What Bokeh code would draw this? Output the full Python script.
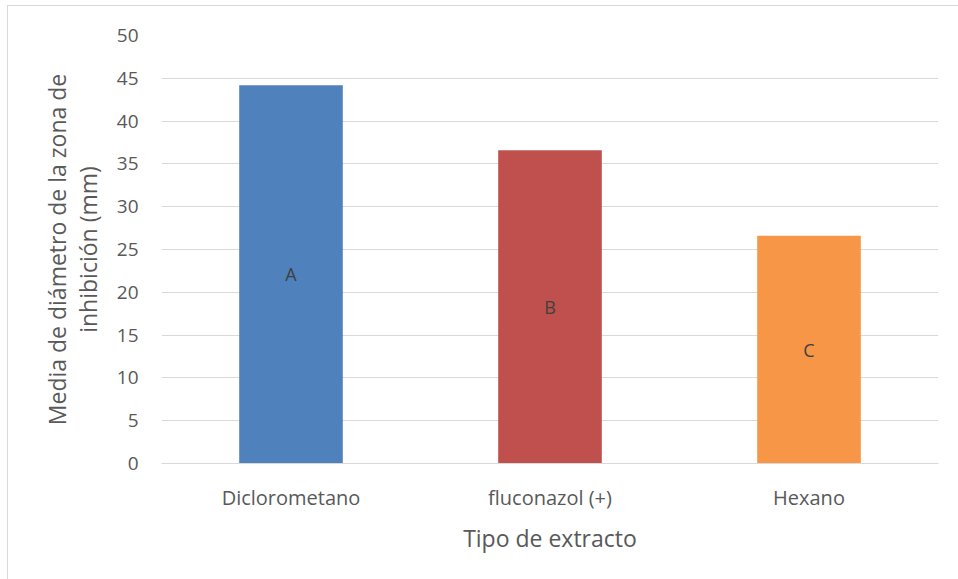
from bokeh.plotting import figure
from bokeh.models import ColumnDataSource, Range1d, LabelSet, FixedTicker
from bokeh.core.properties import value
from bokeh.embed import file_html
from bokeh.resources import INLINE

categories = ["Diclorometano", "fluconazol (+)", "Hexano"]
values = [44.2, 36.6, 26.6]
letters = ["A", "B", "C"]
colors = ["#4F81BD", "#C0504D", "#F79646"]
y_ticks = [0, 5, 10, 15, 20, 25, 30, 35, 40, 45, 50]

FONT = "Open Sans"
GREY = "#595959"

src = ColumnDataSource(dict(cat=categories, val=values, mid=[v / 2 for v in values],
                            lab=letters, col=colors))

p = figure(width=951, height=574, x_range=categories, y_range=Range1d(0, 50),
           output_backend="svg", toolbar_location=None,
           min_border_left=153, min_border_right=21, min_border_top=29, min_border_bottom=117)
p.margin = (5, 0, 0, 7)
p.styles = {"border-top": "1px solid #d9d9d9", "border-left": "1px solid #d9d9d9"}
p.outline_line_color = None
p.background_fill_color = "white"
p.border_fill_color = "white"

p.vbar(x="cat", top="val", width=0.4, color="col", source=src, line_color=None)

p.add_layout(LabelSet(x="cat", y="mid", text="lab", source=src, text_align="center",
                      text_baseline="middle", text_font=value(FONT), text_font_size="18px",
                      text_color="#404040"))

p.xgrid.grid_line_color = None
p.ygrid.grid_line_color = "#d9d9d9"
p.ygrid.grid_line_width = 1
p.yaxis.ticker = FixedTicker(ticks=y_ticks)

for ax in (p.xaxis, p.yaxis):
    ax.major_tick_line_color = None
    ax.minor_tick_line_color = None
    ax.major_label_text_font = FONT
    ax.major_label_text_color = GREY
    ax.axis_label_text_font = FONT
    ax.axis_label_text_font_size = "23px"
    ax.axis_label_text_font_style = "normal"
    ax.axis_label_text_color = GREY

p.yaxis.major_label_text_font_size = "19px"
p.xaxis.major_label_text_font_size = "20px"
p.yaxis.axis_line_color = None
p.xaxis.axis_line_color = "#d9d9d9"
p.yaxis.major_label_standoff = 17
p.xaxis.major_label_standoff = 14
p.xaxis.axis_label = "Tipo de extracto"
p.xaxis.axis_label_standoff = 8
p.yaxis.axis_label = "Media de diámetro de la zona de\ninhibición (mm)"
p.yaxis.axis_label_text_line_height = 0.95
p.yaxis.axis_label_standoff = 10

open("out.html", "w").write(file_html(p, INLINE))
